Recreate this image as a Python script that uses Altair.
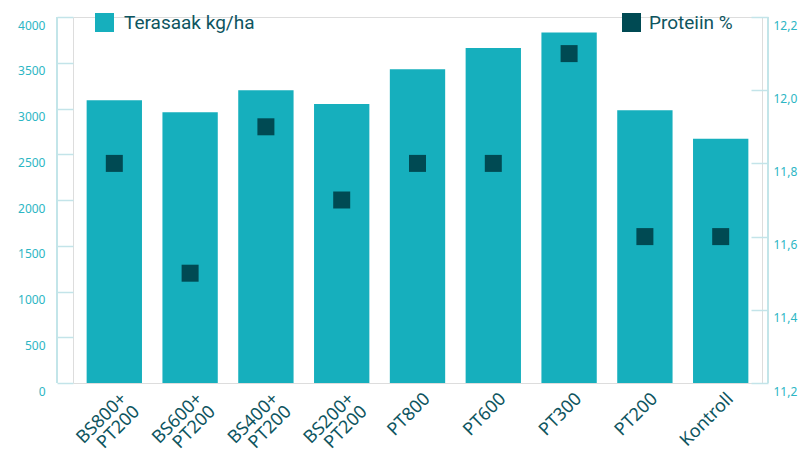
import altair as alt
import pandas as pd

categories = ["BS800+ PT200", "BS600+ PT200", "BS400+ PT200", "BS200+ PT200",
              "PT800", "PT600", "PT300", "PT200", "Kontroll"]
yield_kg = [3090, 2960, 3200, 3050, 3430, 3660, 3830, 2980, 2670]
protein = [11.8, 11.5, 11.9, 11.7, 11.8, 11.8, 12.1, 11.6, 11.6]
left_ticks = [0, 500, 1000, 1500, 2000, 2500, 3000, 3500, 4000]
right_ticks = [11.2, 11.4, 11.6, 11.8, 12.0, 12.2]

df = pd.DataFrame({
    "cat": categories,
    "yield": yield_kg,
    "protein": protein,
    "s1": ["Terasaak kg/ha"] * len(categories),
    "s2": ["Proteiin %"] * len(categories),
})

W, H = 689, 366
BAR = "#16AFBD"
SQ = "#004A53"
AXC = "#C3E4E9"
LBL = "#2DB6C4"
TXT = "#0E5560"
LEG_FONT = "Roboto"

x = alt.X("cat:N", sort=categories, title=None,
          scale=alt.Scale(paddingInner=0.27, paddingOuter=0.18),
          axis=alt.Axis(labelAngle=-45, labelFontSize=18, labelColor=TXT,
                        labelFont="Noto Sans", labelExpr="split(datum.label, ' ')",
                        labelBaseline="middle", labelAlign="right",
                        labelOffset=10, labelPadding=13,
                        domain=False, ticks=False, labelLineHeight=18))

bars = alt.Chart(df).mark_bar(color=BAR).encode(
    x=x,
    y=alt.Y("yield:Q", title=None,
            scale=alt.Scale(domain=[0, 4000], nice=False),
            axis=alt.Axis(values=left_ticks, grid=False, domain=False, format="d",
                          tickColor=AXC, tickSize=16, tickWidth=1.5,
                          labelColor=LBL, labelFontSize=12, labelPadding=12,
                          labelOffset=8, labelFont="Noto Sans", orient="left")),
    color=alt.Color("s1:N", scale=alt.Scale(range=[BAR]),
                    legend=alt.Legend(title=None, orient="none", legendX=22, legendY=-4,
                                      symbolType="square", symbolSize=361,
                                      labelFontSize=19, labelFont=LEG_FONT,
                                      labelColor=TXT, labelOffset=10, padding=0,
                                      symbolStrokeWidth=0)),
)

points = alt.Chart(df).mark_square(size=289, opacity=1, filled=True).encode(
    x=alt.X("cat:N", sort=categories),
    y=alt.Y("protein:Q", title=None,
            scale=alt.Scale(domain=[11.2, 12.2], nice=False, zero=False),
            axis=alt.Axis(values=right_ticks, grid=False, domain=False, orient="right",
                          offset=-11, tickColor=AXC, tickSize=17, tickWidth=1.5,
                          labelColor=LBL, labelFontSize=12, labelPadding=5,
                          labelOffset=8, labelFont="Noto Sans",
                          labelExpr="replace(format(datum.value, '.1f'), '.', ',')")),
    color=alt.Color("s2:N", scale=alt.Scale(range=[SQ]),
                    legend=alt.Legend(title=None, orient="none", legendX=549, legendY=-4,
                                      symbolType="square", symbolSize=361,
                                      labelFontSize=19, labelFont=LEG_FONT,
                                      labelColor=TXT, labelOffset=8, padding=0,
                                      symbolStrokeWidth=0)),
)

left_line = alt.Chart(df).mark_rule(color=AXC, strokeWidth=1.5).encode(
    x=alt.value(-16), y=alt.value(0), y2=alt.value(H))
right_line = alt.Chart(df).mark_rule(color=AXC, strokeWidth=1.5).encode(
    x=alt.value(W + 6), y=alt.value(0), y2=alt.value(H))

chart = alt.layer(bars, points, left_line, right_line).resolve_scale(
    y="independent", color="independent"
).properties(
    width=W, height=H,
    autosize=alt.AutoSizeParams(type="none"),
    padding={"left": 73, "top": 17, "right": 38, "bottom": 66},
).configure_view(stroke=None).configure(background="white")

chart.save("out.html", embed_options={"renderer": "svg", "actions": False})
